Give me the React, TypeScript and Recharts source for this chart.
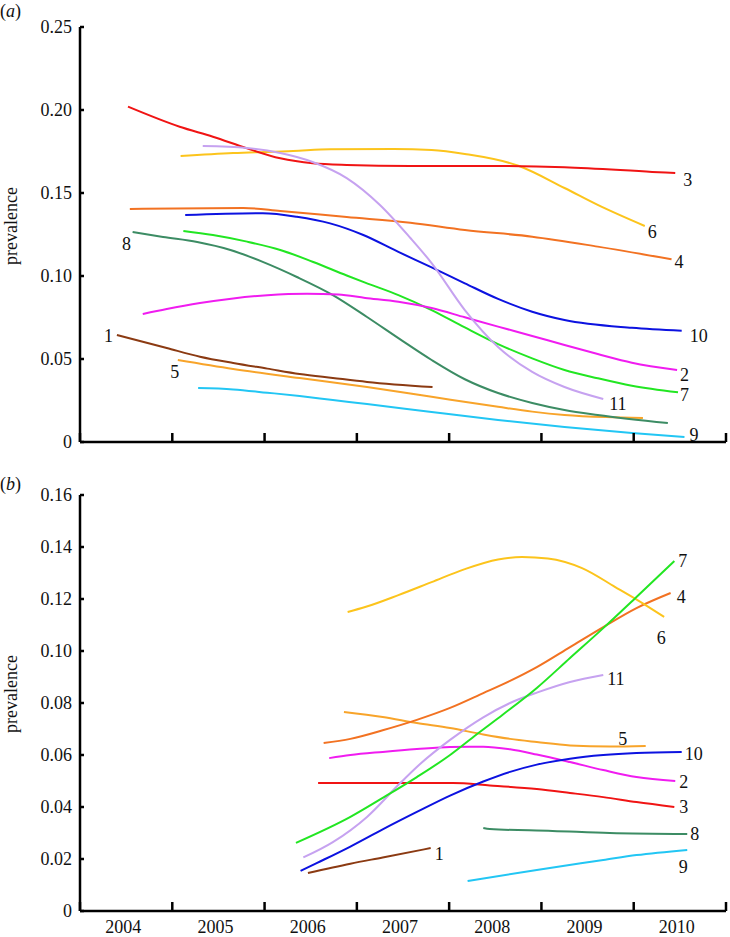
import React from 'react'
import { LineChart, Line, XAxis, YAxis } from 'recharts'

type Pt = [number, number]

const FONT = "'Liberation Serif', 'Times New Roman', serif"

// x axis: tick marks at year boundaries, year labels in the middle of each year
const years = [2004, 2005, 2006, 2007, 2008, 2009, 2010]
const xTicks = [...years.flatMap(y => [y, y + 0.5]), 2011]

const aYTicks = [0, 0.05, 0.1, 0.15, 0.2, 0.25]
const bYTicks = [0, 0.02, 0.04, 0.06, 0.08, 0.1, 0.12, 0.14, 0.16]

// panel (a) — [time, prevalence]
const a1: Pt[] = [[2004.4, 0.0645], [2004.94, 0.0566], [2005.3, 0.0514], [2005.66, 0.0476], [2006.03, 0.0442], [2006.38, 0.041], [2006.74, 0.0386], [2007.11, 0.0362], [2007.82, 0.0331]]
const a2: Pt[] = [[2004.68, 0.0771], [2004.94, 0.0801], [2005.3, 0.0837], [2005.66, 0.0865], [2006.03, 0.0884], [2006.46, 0.0893], [2006.8, 0.0888], [2007.09, 0.0868], [2007.45, 0.0845], [2007.81, 0.0807], [2008.17, 0.0751], [2008.53, 0.0695], [2008.9, 0.0639], [2009.25, 0.0584], [2009.61, 0.053], [2009.98, 0.0478], [2010.47, 0.0434]]
const a3: Pt[] = [[2004.52, 0.202], [2005.08, 0.1899], [2005.44, 0.1839], [2005.81, 0.1769], [2006.17, 0.1709], [2006.52, 0.1679], [2006.89, 0.1669], [2007.58, 0.1663], [2008.36, 0.1663], [2009.25, 0.1655], [2010.2, 0.1627], [2010.45, 0.162]]
const a4: Pt[] = [[2004.54, 0.1404], [2005.77, 0.141], [2006.17, 0.1392], [2006.89, 0.1355], [2007.58, 0.1321], [2008.17, 0.1277], [2008.9, 0.1237], [2009.61, 0.1177], [2010.41, 0.1101]]
const a5: Pt[] = [[2005.06, 0.0494], [2005.66, 0.044], [2006.38, 0.0385], [2007.11, 0.0331], [2007.81, 0.0272], [2008.53, 0.0212], [2008.9, 0.0183], [2009.25, 0.0163], [2009.7, 0.015], [2010.1, 0.0145]]
const a6: Pt[] = [[2005.09, 0.1723], [2005.66, 0.1741], [2006.31, 0.1753], [2006.71, 0.1763], [2007.4, 0.1765], [2007.81, 0.1759], [2008.17, 0.1735], [2008.75, 0.1664], [2009.25, 0.153], [2009.61, 0.1428], [2010.12, 0.1301]]
const a7: Pt[] = [[2005.12, 0.1271], [2005.44, 0.1247], [2005.81, 0.1207], [2006.17, 0.1157], [2006.52, 0.1086], [2006.89, 0.1003], [2007.09, 0.096], [2007.45, 0.0885], [2007.81, 0.0795], [2008.17, 0.069], [2008.53, 0.059], [2008.9, 0.0504], [2009.25, 0.0434], [2009.61, 0.0384], [2009.98, 0.0339], [2010.48, 0.0299]]
const a8: Pt[] = [[2004.57, 0.1265], [2004.9, 0.1235], [2005.27, 0.1205], [2005.63, 0.1157], [2005.98, 0.1085], [2006.35, 0.0994], [2006.74, 0.0885], [2007.11, 0.0753], [2007.47, 0.0618], [2007.81, 0.0494], [2008.17, 0.0378], [2008.53, 0.0295], [2008.9, 0.0235], [2009.25, 0.0193], [2009.61, 0.0163], [2010.37, 0.0114]]
const a9: Pt[] = [[2005.28, 0.0325], [2005.66, 0.0317], [2006.03, 0.0297], [2006.38, 0.0277], [2006.74, 0.0253], [2007.11, 0.0229], [2007.81, 0.0181], [2008.53, 0.0133], [2009.25, 0.009], [2009.98, 0.0054], [2010.55, 0.003]]
const a10: Pt[] = [[2005.14, 0.1367], [2005.98, 0.1378], [2006.35, 0.1357], [2006.71, 0.1317], [2007.07, 0.1247], [2007.45, 0.1145], [2007.81, 0.1052], [2008.17, 0.0956], [2008.53, 0.0862], [2008.9, 0.0785], [2009.25, 0.0735], [2009.98, 0.0688], [2010.52, 0.067]]
const a11: Pt[] = [[2005.33, 0.1783], [2005.81, 0.1771], [2006.17, 0.1741], [2006.52, 0.1687], [2006.89, 0.159], [2007.25, 0.1428], [2007.58, 0.1229], [2007.81, 0.1078], [2008.17, 0.0795], [2008.53, 0.0572], [2008.9, 0.0422], [2009.25, 0.0331], [2009.67, 0.0259]]

// panel (b)
const b1: Pt[] = [[2006.47, 0.0146], [2006.93, 0.0182], [2007.28, 0.0206], [2007.8, 0.0242]]
const b2: Pt[] = [[2006.7, 0.0588], [2006.93, 0.06], [2007.28, 0.0612], [2007.65, 0.0623], [2008.01, 0.0631], [2008.37, 0.0632], [2008.66, 0.0622], [2008.95, 0.0602], [2009.31, 0.0573], [2009.67, 0.0542], [2010.03, 0.0515], [2010.45, 0.05]]
const b3: Pt[] = [[2006.58, 0.0492], [2008.04, 0.0492], [2008.44, 0.0483], [2008.95, 0.0469], [2009.31, 0.0454], [2009.67, 0.0438], [2010.03, 0.0419], [2010.44, 0.04]]
const b4: Pt[] = [[2006.64, 0.0646], [2006.93, 0.0662], [2007.28, 0.0695], [2007.65, 0.0735], [2008.01, 0.0781], [2008.37, 0.0838], [2008.66, 0.0885], [2008.95, 0.0938], [2009.31, 0.1015], [2009.67, 0.1092], [2010.03, 0.1165], [2010.4, 0.1223]]
const b5: Pt[] = [[2006.86, 0.0765], [2007.28, 0.0746], [2007.65, 0.0723], [2008.01, 0.0704], [2008.37, 0.0679], [2008.66, 0.0662], [2008.95, 0.065], [2009.31, 0.0637], [2009.74, 0.0633], [2010.13, 0.0635]]
const b6: Pt[] = [[2006.9, 0.115], [2007.09, 0.1169], [2007.45, 0.1215], [2007.81, 0.1265], [2008.17, 0.1315], [2008.53, 0.1352], [2008.79, 0.1362], [2009.07, 0.1356], [2009.44, 0.1319], [2009.8, 0.1246], [2010.05, 0.1194], [2010.33, 0.1131]]
const b7: Pt[] = [[2006.34, 0.0262], [2006.93, 0.0362], [2007.28, 0.0435], [2007.65, 0.0515], [2008.01, 0.06], [2008.3, 0.068], [2008.58, 0.0755], [2008.95, 0.0858], [2009.31, 0.0973], [2009.67, 0.1088], [2010.03, 0.1208], [2010.44, 0.1346]]
const b8: Pt[] = [[2008.37, 0.0319], [2008.44, 0.0315], [2009.12, 0.0308], [2009.74, 0.03], [2010.58, 0.0296]]
const b9: Pt[] = [[2008.2, 0.0115], [2008.95, 0.0158], [2009.67, 0.0196], [2010.03, 0.0215], [2010.58, 0.0235]]
const b10: Pt[] = [[2006.39, 0.0154], [2006.57, 0.0185], [2006.93, 0.0248], [2007.28, 0.0314], [2007.65, 0.0381], [2008.01, 0.0444], [2008.37, 0.0498], [2008.66, 0.0535], [2008.95, 0.0563], [2009.31, 0.0586], [2009.67, 0.06], [2010.03, 0.0608], [2010.52, 0.0612]]
const b11: Pt[] = [[2006.42, 0.0206], [2006.74, 0.0265], [2007.11, 0.0362], [2007.47, 0.0492], [2007.65, 0.0554], [2008.01, 0.0658], [2008.37, 0.0745], [2008.66, 0.08], [2008.95, 0.084], [2009.31, 0.0881], [2009.67, 0.0908]]

const colors: Record<number, string> = {
  1: '#8b3a12',
  2: '#f01cf0',
  3: '#f01414',
  4: '#f27222',
  5: '#f8a42a',
  6: '#fcc41c',
  7: '#22e622',
  8: '#3c8c64',
  9: '#22c6f4',
  10: '#0c12e0',
  11: '#c6a2f0',
}

// where each curve's number sits: at its first or last point, nudged a bit
type LabelPos = { at: 'start' | 'end'; dx: number; dy: number; anchor: 'start' | 'middle' | 'end' }

const aLabels: Record<number, LabelPos> = {
  1: { at: 'start', dx: -4, dy: 1, anchor: 'end' },
  2: { at: 'end', dx: 3, dy: 5, anchor: 'start' },
  3: { at: 'end', dx: 8, dy: 7, anchor: 'start' },
  4: { at: 'end', dx: 3, dy: 3, anchor: 'start' },
  5: { at: 'start', dx: -3, dy: 12, anchor: 'middle' },
  6: { at: 'end', dx: 3, dy: 6, anchor: 'start' },
  7: { at: 'end', dx: 2, dy: 3, anchor: 'start' },
  8: { at: 'start', dx: -6, dy: 12, anchor: 'middle' },
  9: { at: 'end', dx: 5, dy: -2, anchor: 'start' },
  10: { at: 'end', dx: 8, dy: 5, anchor: 'start' },
  11: { at: 'end', dx: 6, dy: 5, anchor: 'start' },
}

const bLabels: Record<number, LabelPos> = {
  1: { at: 'end', dx: 4, dy: 6, anchor: 'start' },
  2: { at: 'end', dx: 4, dy: 1, anchor: 'start' },
  3: { at: 'end', dx: 5, dy: 0, anchor: 'start' },
  4: { at: 'end', dx: 6, dy: 4, anchor: 'start' },
  5: { at: 'end', dx: -23, dy: -7, anchor: 'middle' },
  6: { at: 'end', dx: -3, dy: 21, anchor: 'middle' },
  7: { at: 'end', dx: 4, dy: 0, anchor: 'start' },
  8: { at: 'end', dx: 3, dy: 0, anchor: 'start' },
  9: { at: 'end', dx: -4, dy: 17, anchor: 'middle' },
  10: { at: 'end', dx: 3, dy: 2, anchor: 'start' },
  11: { at: 'end', dx: 4, dy: 4, anchor: 'start' },
}

const aSeries: [number, Pt[]][] = [[1, a1], [5, a5], [9, a9], [8, a8], [7, a7], [2, a2], [10, a10], [4, a4], [6, a6], [3, a3], [11, a11]]
const bSeries: [number, Pt[]][] = [[9, b9], [8, b8], [1, b1], [3, b3], [2, b2], [5, b5], [10, b10], [11, b11], [4, b4], [6, b6], [7, b7]]

const toRows = (pts: Pt[]) => pts.map(([t, v]) => ({ t, v }))

const fmtY = (v: number) => (v === 0 ? '0' : v.toFixed(2))

function renderXTick(props: any, showYears: boolean) {
  const { x, y, payload } = props
  const v = payload.value
  if (Number.isInteger(v)) {
    return <line x1={x} x2={x} y1={y} y2={y - 9} stroke="#000" strokeWidth={2.5} />
  }
  if (!showYears) return <g />
  return (
    <text x={x - 3} y={y + 22} textAnchor="middle" fontFamily={FONT} fontSize={18} fill="#111">
      {Math.floor(v)}
    </text>
  )
}

function renderYTick(props: any) {
  const { x, y, payload } = props
  return (
    <g>
      <line x1={x + 8} x2={x + 12} y1={y} y2={y} stroke="#000" strokeWidth={2.5} />
      <text x={x} y={y + 6} textAnchor="end" fontFamily={FONT} fontSize={18} fill="#111">
        {fmtY(payload.value)}
      </text>
    </g>
  )
}

function renderSeriesLabel(props: any, id: number, pos: LabelPos, count: number) {
  const { x, y, index } = props
  const target = pos.at === 'start' ? 0 : count - 1
  if (index !== target) return <g />
  return (
    <text x={x + pos.dx} y={y + pos.dy} dominantBaseline="central" textAnchor={pos.anchor} fontFamily={FONT} fontSize={18} fill="#111">
      {id}
    </text>
  )
}

interface PanelProps {
  series: [number, Pt[]][]
  labels: Record<number, LabelPos>
  yMax: number
  yTicks: number[]
  height: number
  marginTop: number
  xAxisHeight: number
  showYears: boolean
}

function Panel({ series, labels, yMax, yTicks, height, marginTop, xAxisHeight, showYears }: PanelProps) {
  return (
    <LineChart width={730} height={height} margin={{ top: marginTop, right: 4, bottom: 0, left: 0 }}>
      <XAxis
        type="number"
        dataKey="t"
        domain={[2004, 2011]}
        ticks={xTicks}
        interval={0}
        allowDataOverflow
        tickLine={false}
        tickSize={0}
        tickMargin={0}
        height={xAxisHeight}
        axisLine={{ stroke: '#000', strokeWidth: 2.5 }}
        tick={(p: any) => renderXTick(p, showYears)}
      />
      <YAxis
        type="number"
        domain={[0, yMax]}
        ticks={yTicks}
        interval={0}
        allowDataOverflow
        tickLine={false}
        tickSize={0}
        tickMargin={8}
        width={80}
        axisLine={{ stroke: '#000', strokeWidth: 2.5 }}
        tick={renderYTick}
      />
      {series.map(([id, pts]) => (
        <Line
          key={id}
          data={toRows(pts)}
          dataKey="v"
          type="monotone"
          stroke={colors[id]}
          strokeWidth={2}
          dot={false}
          activeDot={false}
          isAnimationActive={false}
          label={(p: any) => renderSeriesLabel(p, id, labels[id], pts.length)}
        />
      ))}
    </LineChart>
  )
}

export default function App() {
  return (
    <div style={{ position: 'absolute', left: 0, top: 0, width: 730, height: 937, background: '#fff' }}>
      <div style={{ position: 'absolute', left: 0, top: 0 }}>
        <Panel series={aSeries} labels={aLabels} yMax={0.25} yTicks={aYTicks} height={460} marginTop={27} xAxisHeight={18} showYears={false} />
      </div>
      <div style={{ position: 'absolute', left: 0, top: 460 }}>
        <Panel series={bSeries} labels={bLabels} yMax={0.16} yTicks={bYTicks} height={477} marginTop={35} xAxisHeight={26} showYears={true} />
      </div>
      <svg width={730} height={937} style={{ position: 'absolute', left: 0, top: 0, pointerEvents: 'none' }}>
        <text x={0} y={17} fontFamily={FONT} fontSize={18} fill="#111">
          (<tspan fontStyle="italic">a</tspan>)
        </text>
        <text x={0} y={490} fontFamily={FONT} fontSize={18} fill="#111">
          (<tspan fontStyle="italic">b</tspan>)
        </text>
        <text transform="translate(17, 226) rotate(-90)" textAnchor="middle" fontFamily={FONT} fontSize={18} fill="#111">
          prevalence
        </text>
        <text transform="translate(17, 694) rotate(-90)" textAnchor="middle" fontFamily={FONT} fontSize={18} fill="#111">
          prevalence
        </text>
      </svg>
    </div>
  )
}
